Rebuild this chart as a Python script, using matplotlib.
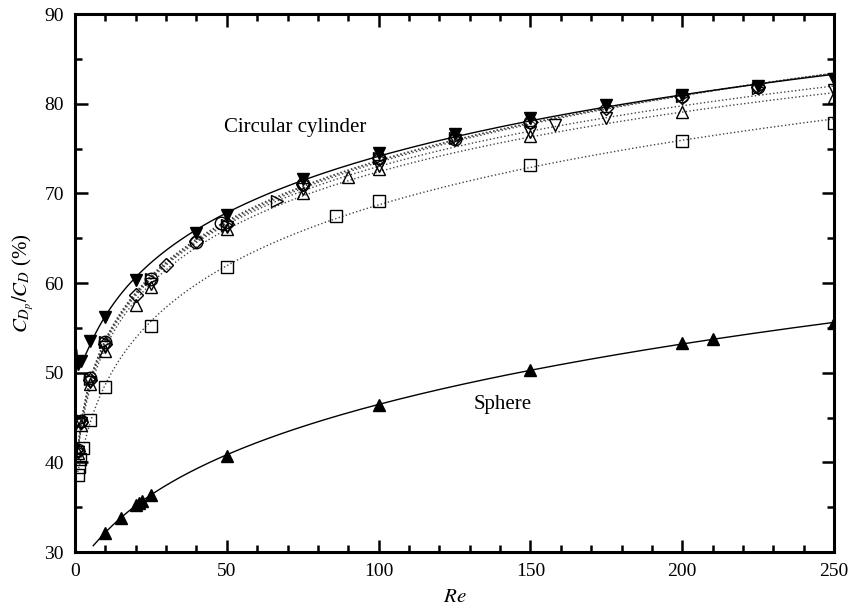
import numpy as np
import matplotlib
matplotlib.use('Agg')
import matplotlib.pyplot as plt
from matplotlib.ticker import MultipleLocator

plt.rcParams['font.family'] = 'Liberation Serif'
plt.rcParams['mathtext.fontset'] = 'stix'

# Circular cylinder, filled down triangles (solid fit)
cyl_re = [1, 2, 5, 10, 20, 40, 50, 75, 100, 125, 150, 175, 200, 225, 250]
cyl_cd = [51.0, 51.3, 53.5, 56.2, 60.3, 65.6, 67.6, 71.6, 74.5, 76.6, 78.4, 79.9, 81.0, 82.0, 82.8]

# Sphere, filled up triangles (solid fit)
sph_re = [10, 15, 20, 21, 22, 25, 50, 100, 150, 200, 210, 250]
sph_cd = [32.1, 33.8, 35.2, 35.5, 35.7, 36.4, 40.7, 46.4, 50.3, 53.3, 53.8, 55.5]

# open-marker series (dotted fits)
circ_re = [1, 2, 5, 10, 25, 40, 48, 75, 100, 125, 150, 200, 225]
circ_cd = [41.4, 44.6, 49.4, 53.4, 60.5, 64.6, 66.7, 71.0, 74.0, 76.1, 78.0, 80.9, 81.9]

diam_re = [1, 2, 5, 10, 20, 30, 40, 50, 75, 100, 125, 150, 175, 200, 225]
diam_cd = [41.3, 44.5, 49.2, 53.2, 58.7, 62.0, 64.7, 66.6, 71.0, 74.0, 76.2, 78.0, 79.5, 80.8, 81.9]

tup_re = [1, 2, 5, 10, 20, 25, 50, 75, 90, 100, 150, 200, 250]
tup_cd = [41.0, 44.2, 48.7, 52.4, 57.5, 59.6, 66.0, 70.0, 71.8, 72.7, 76.4, 79.1, 80.8]

tdn_re = [1, 2, 5, 10, 25, 50, 75, 100, 125, 150, 158, 175, 250]
tdn_cd = [41.2, 44.4, 49.0, 52.9, 59.9, 66.3, 70.5, 73.1, 76.0, 76.8, 77.6, 78.4, 81.5]

trt_re = [1, 2, 5, 10, 25, 50, 66.5, 100, 125, 200, 225]
trt_cd = [41.4, 44.7, 49.3, 53.4, 60.4, 66.5, 69.2, 74.0, 76.2, 80.9, 81.8]

sq_re = [0.9, 1.3, 1.7, 2.7, 5, 10, 25, 50, 86, 100, 150, 200, 250]
sq_cd = [38.6, 39.5, 40.4, 41.6, 44.7, 48.4, 55.2, 61.8, 67.5, 69.1, 73.2, 75.9, 77.9]


def fit_curve(re, cd, start, deg=3):
    # smooth fit in log(Re) through the measured points
    p = np.polyfit(np.log(re), cd, deg)
    xs = np.linspace(np.log(start), np.log(250), 400)
    return np.exp(xs), np.polyval(p, xs)


fig, ax = plt.subplots(figsize=(8.52, 6.13), dpi=100)
fig.subplots_adjust(left=0.088, right=0.979, bottom=0.0995, top=0.977)

# dotted fits for open-marker data
open_sets = [(circ_re, circ_cd, 'o', 9),
             (diam_re, diam_cd, 'D', 7),
             (tup_re, tup_cd, '^', 9),
             (tdn_re, tdn_cd, 'v', 9),
             (trt_re, trt_cd, '>', 9),
             (sq_re, sq_cd, 's', 8)]
for re, cd, m, ms in open_sets:
    fx, fy = fit_curve(re, cd, min(re))
    ax.plot(fx, fy, ':', color='#444444', lw=1.0, zorder=2)
    ax.plot(re, cd, m, ms=ms, mfc='none', mec='black', mew=1.0, zorder=3)

# solid fits
fx, fy = fit_curve(cyl_re, cyl_cd, 0.6)
ax.plot(fx, fy, '-', color='black', lw=1.0, zorder=2)
ax.plot(cyl_re, cyl_cd, 'v', ms=9, color='black', zorder=4)

fx, fy = fit_curve(sph_re, sph_cd, 6, deg=2)
ax.plot(fx, fy, '-', color='black', lw=1.0, zorder=2)
ax.plot(sph_re, sph_cd, '^', ms=9, color='black', zorder=4)

ax.text(72.5, 77.4, 'Circular cylinder', fontsize=15, ha='center', va='center')
ax.text(141, 46.4, 'Sphere', fontsize=15, ha='center', va='center')

ax.set_xlim(0, 250)
ax.set_ylim(30, 90)
ax.xaxis.set_major_locator(MultipleLocator(50))
ax.xaxis.set_minor_locator(MultipleLocator(10))
ax.yaxis.set_major_locator(MultipleLocator(10))
ax.yaxis.set_minor_locator(MultipleLocator(5))
ax.tick_params(which='both', direction='in', top=True, right=True, labelsize=14, width=1.8)
ax.tick_params(which='major', length=9, pad=8)
ax.tick_params(which='minor', length=5)
for s in ax.spines.values():
    s.set_linewidth(2.2)

ax.set_xlabel('$Re$', fontsize=15, labelpad=6)
ax.set_ylabel(r'$C_{D_p}/C_D$ (%)', fontsize=15, labelpad=6)

fig.savefig('out.png', dpi=100)
